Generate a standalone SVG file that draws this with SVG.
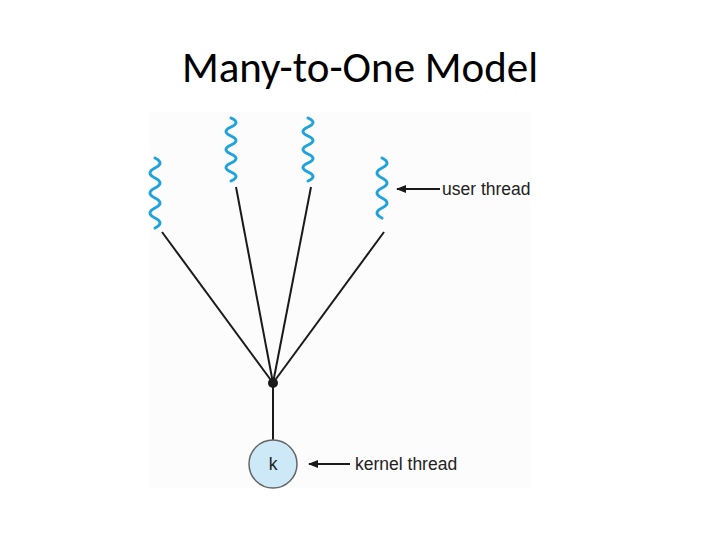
<svg xmlns="http://www.w3.org/2000/svg" width="720" height="540" viewBox="0 0 720 540">
<defs>
<style>
.sq{fill:none;stroke:#1fa3dc;stroke-width:3;stroke-linecap:round}
.ln{stroke:#1a1a1a;stroke-width:2;fill:none}
.lbl{font-family:"Liberation Sans",Arial,sans-serif;font-size:17.5px;fill:#222}
</style>
<marker id="ah" markerWidth="10" markerHeight="8" refX="9" refY="4" orient="auto" markerUnits="userSpaceOnUse">
<path d="M0,0 L10,4 L0,8 Z" fill="#1a1a1a"/>
</marker>
</defs>
<rect width="720" height="540" fill="#fff"/>
<rect x="150" y="112" width="380" height="376" fill="#fcfcfc"/>
<text x="360" y="82" text-anchor="middle" font-family="Carlito,'Liberation Sans',sans-serif" font-size="43" fill="#000">Many-to-One Model</text>
<g id="connectors">
<line class="ln" x1="162" y1="232" x2="273" y2="383"/>
<line class="ln" x1="236" y1="187" x2="273" y2="383"/>
<line class="ln" x1="311" y1="187" x2="273" y2="383"/>
<line class="ln" x1="384" y1="232" x2="273" y2="383"/>
<line class="ln" x1="273" y1="383" x2="273" y2="440"/>
<line class="ln" x1="440" y1="189" x2="397" y2="189" marker-end="url(#ah)"/>
<line class="ln" x1="350" y1="464" x2="309" y2="464" marker-end="url(#ah)"/>
</g>
<g id="thread1"><path class="sq" d="M155,158 q10,5 0,10 t0,10 t0,10 t0,10 t0,10 t0,10 t0,10"/></g>
<g id="thread2"><path class="sq" d="M231,118 q10,4.5 0,9 t0,9 t0,9 t0,9 t0,9 t0,9 t0,9"/></g>
<g id="thread3"><path class="sq" d="M308,118 q10,4.5 0,9 t0,9 t0,9 t0,9 t0,9 t0,9 t0,9"/></g>
<g id="thread4"><path class="sq" d="M382,158 q10,5 0,10 t0,10 t0,10 t0,10 t0,10 t0,10"/></g>
<g id="junction"><circle cx="273" cy="383" r="5" fill="#1a1a1a"/></g>
<g id="kernel">
<circle cx="273" cy="464" r="24" fill="#cde9f8" stroke="#666" stroke-width="1.5"/>
<text x="273" y="470" text-anchor="middle" class="lbl">k</text>
</g>
<text x="442" y="195" class="lbl">user thread</text>
<text x="355" y="470" class="lbl">kernel thread</text>
</svg>
